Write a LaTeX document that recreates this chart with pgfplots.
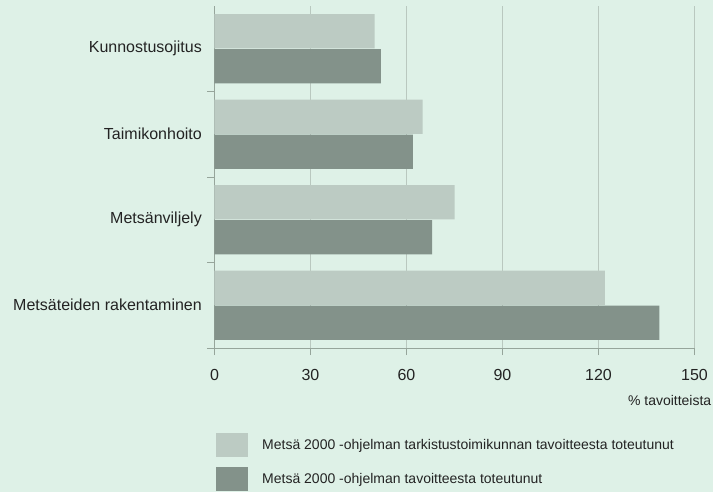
\documentclass[border=0pt]{standalone}
\usepackage{pgfplots}
\pgfplotsset{compat=1.18}
\usepackage{fontspec}
\setmainfont{Liberation Sans}
\definecolor{bg}{RGB}{222,241,231}
\definecolor{lightbar}{RGB}{188,203,195}
\definecolor{darkbar}{RGB}{131,146,138}
\definecolor{gridc}{RGB}{185,200,191}
\definecolor{axisc}{RGB}{150,165,155}
\definecolor{txt}{RGB}{35,35,35}
\begin{document}
\begin{tikzpicture}[x=1pt,y=1pt]
\fill[bg] (0,0) rectangle (713,-492);
\path[use as bounding box] (0,0) rectangle (713,-492);
\begin{axis}[
  at={(214.5pt,-348pt)}, anchor=south west,
  scale only axis, width=480pt, height=342pt,
  xmin=0, xmax=150, ymin=-0.5, ymax=3.5,
  axis lines=left, axis line style={-, draw=axisc, line width=0.8pt},
  x axis line style={shorten <=-7pt},
  xtick={0,30,60,90,120,150},
  xticklabels={0,30,60,90,120,150},
  xmajorgrids, grid style={draw=gridc, line width=0.6pt},
  ytick={0.5,1.5,2.5}, yticklabels={},
  extra y ticks={0,1,2,3},
  extra y tick labels={Metsäteiden rakentaminen,Metsänviljely,Taimikonhoito,Kunnostusojitus},
  extra y tick style={major tick length=0pt},
  tick align=outside, major tick length=7pt,
  tick style={draw=axisc, line width=0.8pt},
  /pgf/number format/assume math mode=true,
  tick label style={font=\fontsize{16}{16}\selectfont, text=txt},
  xticklabel style={inner sep=0pt, yshift=-14pt},
  yticklabel style={inner sep=0pt, xshift=-12.5pt},
  xlabel={\% tavoitteista},
  xlabel style={at={(rel axis cs:1,0)}, anchor=north east, xshift=17pt, yshift=-47pt, inner sep=0pt, font=\fontsize{14}{14}\selectfont, text=txt},
  legend style={at={(rel axis cs:0,0)}, anchor=north west, xshift=1.5pt, yshift=-85pt,
    draw=none, fill=none, inner sep=0pt, row sep=10.5pt,
    nodes={inner sep=0pt},
    font=\fontsize{14}{14}\selectfont, text=txt},
  legend cell align=left,
  /tikz/every odd column/.append style={column sep=14.5pt},
  legend image code/.code={\path[#1,draw=none] (0pt,-11.75pt) rectangle (31.5pt,11.75pt);},
]
\addplot[xbar, bar width=0.4, bar shift=0.205, fill=lightbar, draw=none] coordinates {
  (122,0) (75,1) (65,2) (50,3)};
\addplot[xbar, bar width=0.4, bar shift=-0.205, fill=darkbar, draw=none] coordinates {
  (139,0) (68,1) (62,2) (52,3)};
\legend{Metsä 2000 -ohjelman tarkistustoimikunnan tavoitteesta toteutunut, Metsä 2000 -ohjelman tavoitteesta toteutunut}
\end{axis}
\end{tikzpicture}
\end{document}
